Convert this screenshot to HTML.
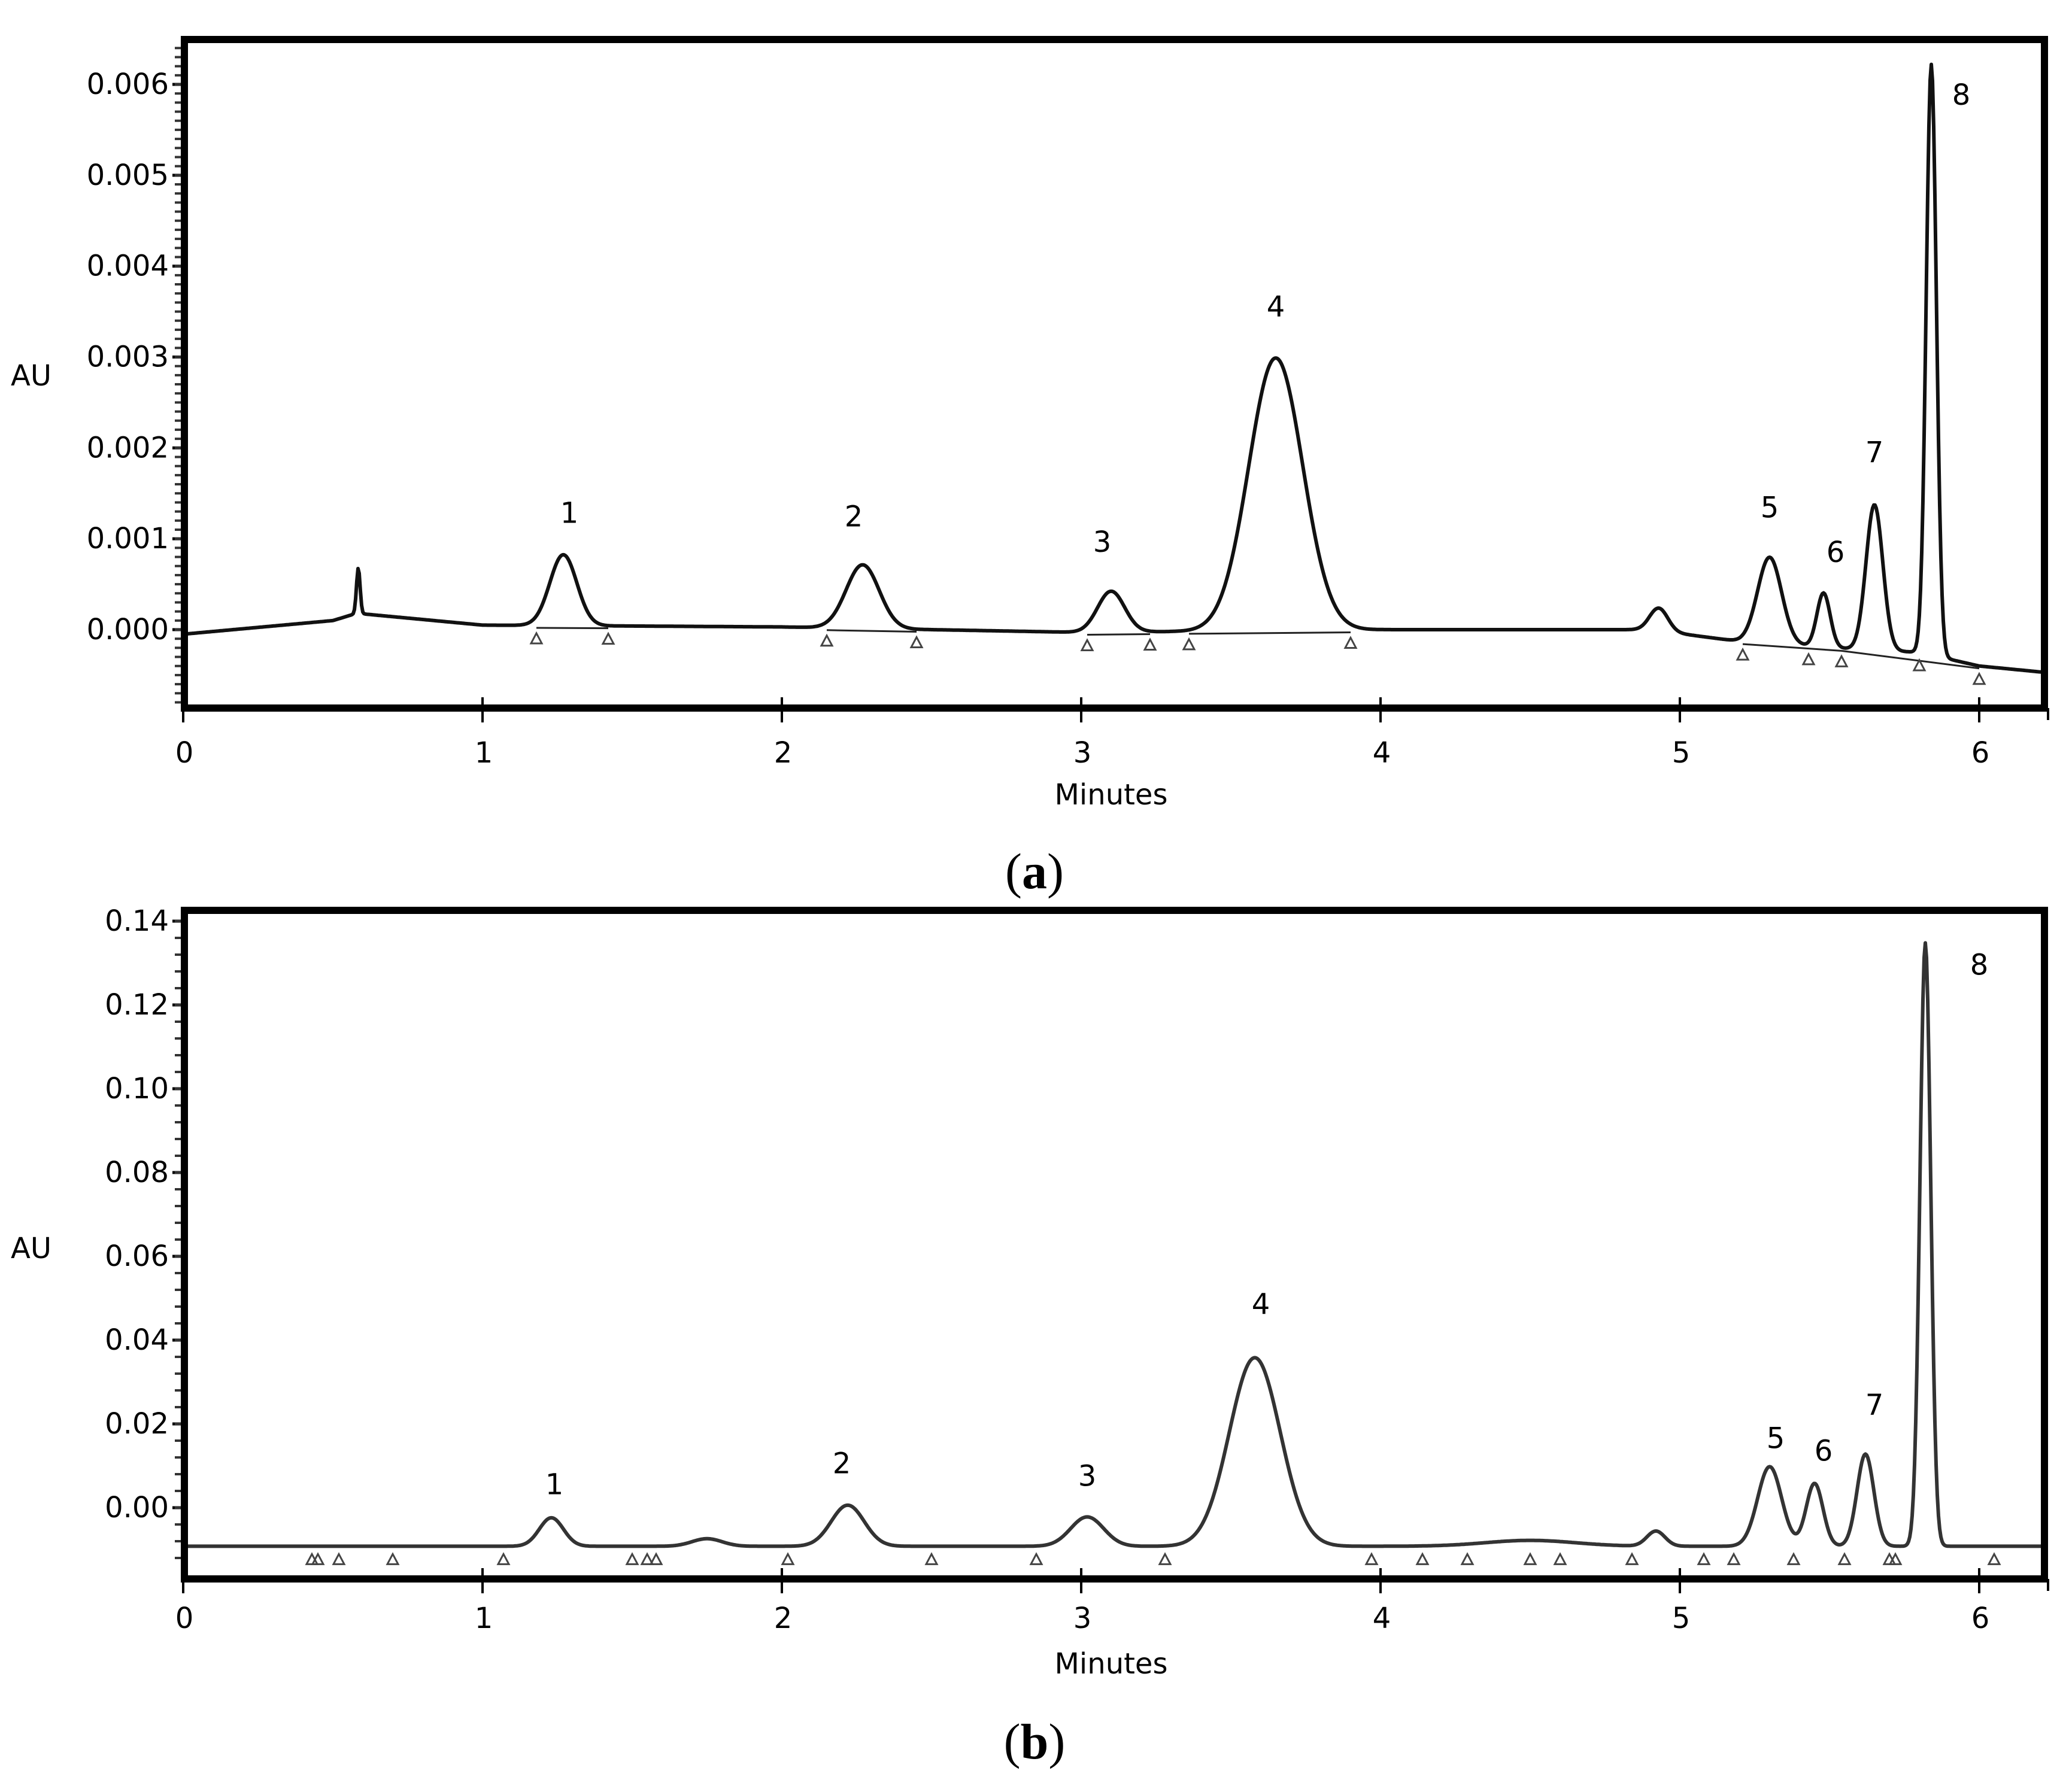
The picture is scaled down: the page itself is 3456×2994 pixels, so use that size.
<!DOCTYPE html>
<html><head><meta charset="utf-8"><style>
html,body{margin:0;padding:0;background:#fff}
svg{display:block}
text{font-family:"DejaVu Sans","Liberation Sans",sans-serif;fill:#000}
</style></head><body>
<svg id="chart" width="3456" height="2994" viewBox="0 0 3456 2994" xmlns="http://www.w3.org/2000/svg">
<defs>
<clipPath id="clipA"><rect x="308" y="72" width="3107" height="1105"/></clipPath>
<clipPath id="clipB"><rect x="308" y="1527" width="3107" height="1105"/></clipPath>
</defs>
<g id="panelA"></g>
<g id="panelB"></g>
</svg>
<script>
// ---- Panel (a) data ----
const xTicks = [0,1,2,3,4,5,6];
const yTicksA = [0,0.001,0.002,0.003,0.004,0.005,0.006];
const yTickLabelsA = ["0.000","0.001","0.002","0.003","0.004","0.005","0.006"];
const peakCentersA = [0.585,1.27,2.27,3.1,3.65,4.93,5.3,5.48,5.65,5.84];
const peakHeightsA = [0.0005,0.00078,0.0007,0.00045,0.003,0.00025,0.00095,0.0006,0.0016,0.0065];
const peakWidthsA = [0.006,0.045,0.055,0.045,0.09,0.03,0.04,0.022,0.028,0.017];
const baseTimesA = [0,0.5,0.58,1,2,3,4,4.9,5.2,5.5,5.8,6.0,6.25];
const baseValsA = [-0.00005,0.0001,0.00018,0.00005,0.00003,-0.00003,0,0,-0.00013,-0.0002,-0.00025,-0.0004,-0.00048];
const labelTimesA = [1.29,2.24,3.07,3.65,5.3,5.52,5.65,5.94];
const labelValsA = [0.00128,0.00124,0.00096,0.00355,0.00134,0.00085,0.00195,0.00588];
const triTimesA = [1.18,1.42,2.15,2.45,3.02,3.23,3.36,3.9,5.21,5.43,5.54,5.8,6.0];
const intgStartA = [1.18,2.15,3.02,3.36,5.21,5.54];
const intgEndA = [1.42,2.45,3.23,3.9,5.54,6.0];
// ---- Panel (b) data ----
const yTicksB = [0,0.02,0.04,0.06,0.08,0.10,0.12,0.14];
const yTickLabelsB = ["0.00","0.02","0.04","0.06","0.08","0.10","0.12","0.14"];
const peakCentersB = [1.23,1.75,2.22,3.02,3.58,4.5,4.92,5.3,5.45,5.62,5.82];
const peakHeightsB = [0.0068,0.0018,0.0098,0.007,0.045,0.0014,0.0036,0.019,0.015,0.022,0.144];
const peakWidthsB = [0.04,0.05,0.055,0.055,0.085,0.15,0.03,0.04,0.028,0.028,0.018];
const baseTimesB = [0,6.25];
const baseValsB = [-0.0092,-0.0092];
const labelTimesB = [1.24,2.2,3.02,3.6,5.32,5.48,5.65,6.0];
const labelValsB = [0.0055,0.0105,0.0075,0.0485,0.0165,0.0135,0.0245,0.1295];
const triTimesB = [0.43,0.45,0.52,0.7,1.07,1.5,1.55,1.58,2.02,2.5,2.85,3.28,3.97,4.14,4.29,4.5,4.6,4.84,5.08,5.18,5.38,5.55,5.7,5.72,6.05];

const NS="http://www.w3.org/2000/svg";
function mk(tag,attrs,parent){const e=document.createElementNS(NS,tag);for(const k in attrs)e.setAttribute(k,attrs[k]);parent.appendChild(e);return e;}
const xScale = t => 306 + t*500;
function interp(ts,vs,t){for(let i=0;i<ts.length-1;i++){if(t<=ts[i+1]){const f=(t-ts[i])/(ts[i+1]-ts[i]);return vs[i]+f*(vs[i+1]-vs[i]);}}return vs[vs.length-1];}
function signal(t,c,h,w,bt,bv){let v=interp(bt,bv,t);for(let i=0;i<c.length;i++){const d=(t-c[i])/w[i];v+=h[i]*Math.exp(-0.5*d*d);}return v;}

function panel(g,cfg){
  const {top,bottom,yScale,yTicks,yLabels,minorStep,yMax,yMin,clip,pc,ph,pw,bt,bv,lt,lv,tri,is,ie,label,lineW,lineC,auY,tickLY,minY,capY} = cfg;
  let d="";
  for(let t=0;t<=6.25;t+=0.004){const v=signal(t,pc,ph,pw,bt,bv);d+=(d?"L":"M")+xScale(t).toFixed(1)+","+yScale(v).toFixed(1);}
  const tr=mk("path",{d:d,fill:"none",stroke:lineC,"stroke-width":lineW,"stroke-linejoin":"round","clip-path":clip},g);
  
  
  for(let i=0;i<is.length;i++){
    const l=mk("line",{x1:xScale(is[i]),y1:yScale(interp(bt,bv,is[i]))+4,x2:xScale(ie[i]),y2:yScale(interp(bt,bv,ie[i]))+4,stroke:"#222","stroke-width":3,"clip-path":clip},g);
    
    
  }
  tri.forEach(t=>{
    const x=xScale(t),y=yScale(interp(bt,bv,t))+22;
    const p=mk("polygon",{points:`${x-9},${y+8} ${x+9},${y+8} ${x},${y-9}`,fill:"none",stroke:"#444","stroke-width":3},g);
    
    
  });
  const fr=mk("rect",{x:308,y:top,width:3107,height:bottom-top,fill:"none",stroke:"#000","stroke-width":12},g);
  
  
  yTicks.forEach((v,i)=>{
    const y=yScale(v);
    const tl=mk("line",{x1:288,y1:y,x2:304,y2:y,stroke:"#000","stroke-width":5},g);
    
    
    const tx=mk("text",{x:282,y:y,"font-size":48,"text-anchor":"end","dominant-baseline":"central"},g);
    tx.textContent=yLabels[i];
    
    
  });
  for(let v=yMin;v<=yMax+1e-9;v+=minorStep){
    const y=yScale(v); if(y<top+5||y>bottom-5) continue;
    const m=mk("line",{x1:292,y1:y,x2:302,y2:y,stroke:"#333","stroke-width":4},g);
    
    
  }
  xTicks.forEach(t=>{
    const x=xScale(t);
    const l=mk("line",{x1:x,y1:bottom-18,x2:x,y2:bottom+24,stroke:"#000","stroke-width":4},g);
    
    
    const tx=mk("text",{x:x+2,y:tickLY,"font-size":48,"text-anchor":"middle","dominant-baseline":"central"},g);
    tx.textContent=String(t);
    
    
  });
  const endT=mk("line",{x1:3421,y1:bottom,x2:3421,y2:bottom+20,stroke:"#000","stroke-width":4},g);
  
  
  lt.forEach((t,i)=>{
    const tx=mk("text",{x:xScale(t),y:yScale(lv[i]),"font-size":48,"text-anchor":"middle","dominant-baseline":"central"},g);
    tx.textContent=String(i+1);
    
    
  });
  const au=mk("text",{x:52,y:auY,"font-size":48,"text-anchor":"middle","dominant-baseline":"central"},g);
  au.textContent="AU";
  
  
  const mn=mk("text",{x:1856,y:minY,"font-size":48,"text-anchor":"middle","dominant-baseline":"central"},g);
  mn.textContent="Minutes";
  
  
  const cp=mk("text",{x:1728,y:capY,"font-size":84,"text-anchor":"middle","dominant-baseline":"central","style":"font-family:'Liberation Serif',serif"},g);
  cp.innerHTML='(<tspan font-weight="bold">'+label+'</tspan>)';
  
  
}

panel(document.getElementById('panelA'),{top:66,bottom:1183,yScale:v=>1052-v*151833,yTicks:yTicksA,yLabels:yTickLabelsA,minorStep:0.0001,yMin:-0.0009,yMax:0.0065,clip:"url(#clipA)",pc:peakCentersA,ph:peakHeightsA,pw:peakWidthsA,bt:baseTimesA,bv:baseValsA,lt:labelTimesA,lv:labelValsA,tri:triTimesA,is:intgStartA,ie:intgEndA,label:"a",lineW:6,lineC:"#111",auY:628,tickLY:1258,minY:1328,capY:1456});
panel(document.getElementById('panelB'),{top:1521,bottom:2638,yScale:v=>2519-v*7000,yTicks:yTicksB,yLabels:yTickLabelsB,minorStep:0.004,yMin:-0.012,yMax:0.144,clip:"url(#clipB)",pc:peakCentersB,ph:peakHeightsB,pw:peakWidthsB,bt:baseTimesB,bv:baseValsB,lt:labelTimesB,lv:labelValsB,tri:triTimesB,is:[],ie:[],label:"b",lineW:6,lineC:"#333",auY:2086,tickLY:2704,minY:2780,capY:2910});
</script>
</body></html>
